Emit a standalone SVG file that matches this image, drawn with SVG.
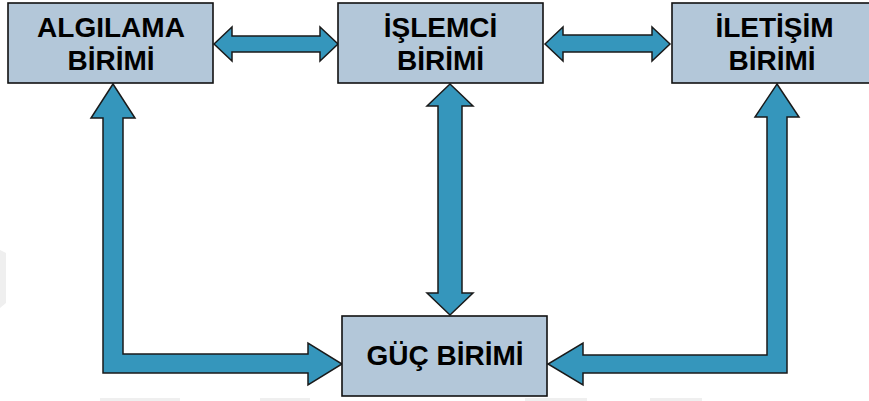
<svg xmlns="http://www.w3.org/2000/svg" width="869" height="401" viewBox="0 0 869 401">
  <style>
    .box { fill: #b3c7d9; stroke: #111111; stroke-width: 1.6; }
    .lbl { font-family: "Liberation Sans", Arial, sans-serif; font-weight: bold; font-size: 28px; fill: #000000; text-anchor: middle; }
    .arrow { fill: #3596bc; stroke: #1a1a1a; stroke-width: 1.5; stroke-linejoin: miter; }
    .haze { fill: #efefef; }
  </style>
  <rect width="869" height="401" fill="#ffffff"/>

  <!-- faint background marks -->
  <g id="background-marks">
    <polygon class="haze" points="0,250 6,253 6,303 0,308"/>
    <rect class="haze" x="100" y="398" width="80" height="3"/>
    <rect class="haze" x="260" y="398" width="50" height="3"/>
    <rect class="haze" x="525" y="398" width="62" height="3"/>
    <rect class="haze" x="650" y="398" width="52" height="3"/>
  </g>

  <!-- connectors -->
  <g id="connectors">
    <polygon class="arrow" points="214,44 232,27 232,36 320,36 320,27 338,44 320,61 320,52 232,52 232,61"/>
    <polygon class="arrow" points="545,44 563,27 563,35 652,35 652,27 670,44 652,61 652,52 563,52 563,61"/>
    <polygon class="arrow" points="450,84 473,106 462,106 462,293 473,293 450,315 427,293 438,293 438,106 427,106"/>
    <polygon class="arrow" points="113,84 135,118 123,118 123,354 308,354 308,343 342,364 308,385 308,373 103,373 103,118 91,118"/>
    <polygon class="arrow" points="777,84 799,117 787,117 787,373 583,373 583,385 548,364 583,343 583,355 767,355 767,117 755,117"/>
  </g>

  <g id="algilama">
    <rect class="box" x="8" y="3" width="205" height="80"/>
    <text class="lbl" x="111" y="37">ALGILAMA</text>
    <text class="lbl" x="111" y="70">BİRİMİ</text>
  </g>

  <g id="islemci">
    <rect class="box" x="338" y="3" width="205" height="80"/>
    <text class="lbl" x="440.5" y="37">İŞLEMCİ</text>
    <text class="lbl" x="440.5" y="70">BİRİMİ</text>
  </g>

  <g id="iletisim">
    <rect class="box" x="672" y="3" width="205" height="80"/>
    <text class="lbl" x="774.5" y="37">İLETİŞİM</text>
    <text class="lbl" x="772" y="70">BİRİMİ</text>
  </g>

  <g id="guc">
    <rect class="box" x="342" y="316" width="205" height="80"/>
    <text class="lbl" x="445" y="365">GÜÇ BİRİMİ</text>
  </g>
</svg>
